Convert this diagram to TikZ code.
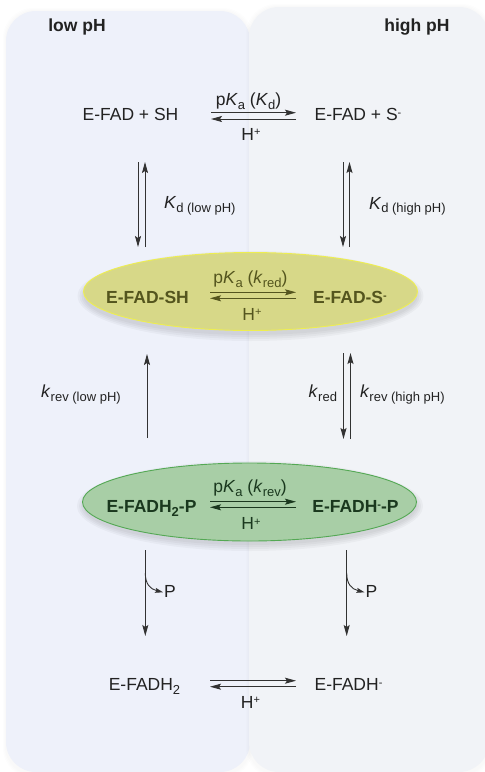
\documentclass[tikz,border=0pt]{standalone}
\usepackage{fontspec}
\setmainfont{Liberation Sans}
\usetikzlibrary{arrows.meta,shapes.geometric}

\definecolor{panelL}{RGB}{238,241,250}
\definecolor{panelR}{RGB}{241,243,247}
\definecolor{ink}{RGB}{34,34,34}
\definecolor{lineink}{RGB}{50,50,50}
\definecolor{yfill}{RGB}{215,216,136}
\definecolor{yedge}{RGB}{238,238,80}
\definecolor{ytext}{RGB}{84,85,30}
\definecolor{gfill}{RGB}{168,206,166}
\definecolor{gedge}{RGB}{84,168,84}
\definecolor{gtext}{RGB}{26,56,30}

% lowered subscript and raised charge signs
\newcommand{\lowsub}[1]{\raisebox{-0.22em}{\fontsize{13}{13}\selectfont #1}}
\newcommand{\chg}[1]{\raisebox{0.24em}{\fontsize{11}{11}\selectfont #1}}
\newcommand{\Hplus}{H\chg{+}}

\tikzset{
  lbl/.style={anchor=base, inner sep=0pt, outer sep=0pt, text=ink,
    font=\fontsize{17.5}{20}\selectfont},
  hdr/.style={lbl, font=\fontsize{17.5}{20}\selectfont\bfseries},
  species/.style={lbl, font=\fontsize{17.5}{20}\selectfont\bfseries},
  rxn/.style={draw=lineink, line width=0.9pt,
    -{Stealth[length=11pt,width=6pt,inset=2pt]}},
  panel/.style={rounded corners=30pt},
  blob/.style={ellipse, inner sep=0pt, minimum width=334pt, minimum height=78pt,
    line width=0.9pt},
}

\begin{document}
\begin{tikzpicture}[x=1pt,y=-1pt]
\useasboundingbox (0,0) rectangle (485,772);
\fill[white] (0,0) rectangle (485,772);

% pH panels with a soft edge shadow
\foreach \s in {3,2,1}
  \fill[black,opacity=0.008,rounded corners=30pt]
    (6-\s,11-\s) rectangle (250+\s,775+\s);
\fill[panelL,panel] (6,11) rectangle (250,772);
\foreach \s in {3,2,1}
  \fill[black,opacity=0.008,rounded corners=30pt]
    (249-\s,7-\s) rectangle (489+\s,775+\s);
\fill[panelR,panel] (249,7) rectangle (489,772);

\node[hdr] (lowph) at (77,31) {low pH};
\node[hdr] (highph) at (417,31) {high pH};

% soft shadows under the two ellipses
\foreach \s in {0,2,4,6}
  \fill[black,opacity=0.03] (250.5,296) ellipse [x radius={167pt+\s pt}, y radius={39pt+\s pt}];
\foreach \s in {0,2,4,6}
  \fill[black,opacity=0.03] (250,506) ellipse [x radius={167pt+\s pt}, y radius={39pt+\s pt}];

\node[blob, draw=yedge, fill=yfill] (ellY) at (250.5,291.5) {};
\node[blob, draw=gedge, fill=gfill] (ellG) at (249.5,502) {};

% top row
\node[lbl] (efadsh) at (130.5,120.7) {E-FAD + SH};
\node[lbl] (efads) at (358,120.7) {E-FAD + S\chg{-}};
\node[lbl] (pkaKd) at (248.5,105.6) {p\textit{K}\lowsub{a} (\textit{K}\lowsub{d})};
\node[lbl] (hp1) at (251,140) {\Hplus};
\coordinate (r1a) at (211,112.7); \coordinate (r1b) at (296,112.7);
\coordinate (r1c) at (296,119);   \coordinate (r1d) at (211,119);
\draw[rxn] (r1a) -- (r1b);
\draw[rxn] (r1c) -- (r1d);

% substrate binding
\coordinate (kdl1) at (138,162); \coordinate (kdl2) at (138,247);
\coordinate (kdl3) at (145,247); \coordinate (kdl4) at (145,162);
\draw[rxn] (kdl1) -- (kdl2);
\draw[rxn] (kdl3) -- (kdl4);
\node[lbl,anchor=base west] (kdlow) at (164,208.5) {\textit{K}\lowsub{d (low pH)}};
\coordinate (kdr1) at (343,162); \coordinate (kdr2) at (343,247);
\coordinate (kdr3) at (349.5,247); \coordinate (kdr4) at (349.5,162);
\draw[rxn] (kdr1) -- (kdr2);
\draw[rxn] (kdr3) -- (kdr4);
\node[lbl,anchor=base west] (kdhigh) at (369,209) {\textit{K}\lowsub{d (high pH)}};

% Michaelis complex
\node[species,text=ytext] (cplxSH) at (147.5,303.3) {E-FAD-SH};
\node[species,text=ytext] (cplxS) at (350,303.3) {E-FAD-S\chg{-}};
\node[lbl,text=ytext] (pkared) at (250.5,283.3) {p\textit{K}\lowsub{a} (\textit{k}\lowsub{red})};
\node[lbl,text=ytext] (hp2) at (252,320) {\Hplus};
\coordinate (r2a) at (210,292.3); \coordinate (r2b) at (296,292.3);
\coordinate (r2c) at (296,298.3); \coordinate (r2d) at (210,298.3);
\draw[rxn,draw=ytext,-{Stealth[length=11pt,width=6pt,inset=2pt,color=ytext]}] (r2a) -- (r2b);
\draw[rxn,draw=ytext,-{Stealth[length=11pt,width=6pt,inset=2pt,color=ytext]}] (r2c) -- (r2d);

% reduction / reverse reaction
\coordinate (kvl1) at (147,438); \coordinate (kvl2) at (147,354);
\draw[rxn] (kvl1) -- (kvl2);
\node[lbl] (krevlow) at (81,397.3) {\textit{k}\lowsub{rev (low pH)}};
\coordinate (kvr1) at (343.5,353); \coordinate (kvr2) at (343.5,439);
\coordinate (kvr3) at (350.5,439); \coordinate (kvr4) at (350.5,353);
\draw[rxn] (kvr1) -- (kvr2);
\draw[rxn] (kvr3) -- (kvr4);
\node[lbl,anchor=base east] (kred) at (337,397.3) {\textit{k}\lowsub{red}};
\node[lbl,anchor=base west] (krevhigh) at (360,397.3) {\textit{k}\lowsub{rev (high pH)}};

% reduced product complex
\node[species,text=gtext] (prodH2) at (151.5,512.7) {E-FADH\lowsub{2}-P};
\node[species,text=gtext] (prodH) at (355.5,512.7) {E-FADH\chg{-}-P};
\node[lbl,text=gtext] (pkarev) at (250,492.7) {p\textit{K}\lowsub{a} (\textit{k}\lowsub{rev})};
\node[lbl,text=gtext] (hp3) at (251,529.3) {\Hplus};
\coordinate (r3a) at (210,501.7); \coordinate (r3b) at (296,501.7);
\coordinate (r3c) at (296,507.3); \coordinate (r3d) at (210,507.3);
\draw[rxn,draw=gtext,-{Stealth[length=11pt,width=6pt,inset=2pt,color=gtext]}] (r3a) -- (r3b);
\draw[rxn,draw=gtext,-{Stealth[length=11pt,width=6pt,inset=2pt,color=gtext]}] (r3c) -- (r3d);

% product release
\node[lbl,anchor=base west] (pl) at (164,597.3) {P};
\node[lbl,anchor=base west] (pr) at (365.5,597.3) {P};
\coordinate (pla) at (145.3,550); \coordinate (plb) at (145.3,636);
\coordinate (plk) at (145.3,573);
\coordinate (pra) at (346.7,550); \coordinate (prb) at (346.7,636);
\coordinate (prk) at (346.7,573);
\draw[rxn] (pla) -- (plb);
\draw[rxn] (pra) -- (prb);
\draw[rxn,-{Stealth[length=8pt,width=5pt,inset=1.5pt]}]
  (plk) .. controls (145.3,584) and (150,589) .. ([xshift=-1pt,yshift=-1pt]pl.west);
\draw[rxn,-{Stealth[length=8pt,width=5pt,inset=1.5pt]}]
  (prk) .. controls (346.7,584) and (351.4,589) .. ([xshift=-1pt,yshift=-1pt]pr.west);

% free reduced enzyme
\node[lbl] (freeH2) at (144.5,690.7) {E-FADH\lowsub{2}};
\node[lbl] (freeH) at (348.5,690.7) {E-FADH\chg{-}};
\node[lbl] (hp4) at (250.5,708) {\Hplus};
\coordinate (r4a) at (210,680.7); \coordinate (r4b) at (296,680.7);
\coordinate (r4c) at (296,686.7); \coordinate (r4d) at (210,686.7);
\draw[rxn] (r4a) -- (r4b);
\draw[rxn] (r4c) -- (r4d);
\end{tikzpicture}
\end{document}
